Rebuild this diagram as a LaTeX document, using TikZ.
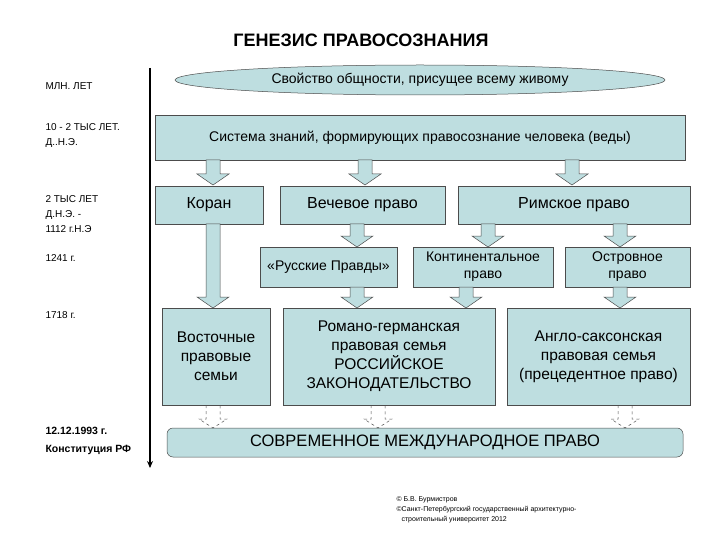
\documentclass[tikz,border=0pt]{standalone}
\usepackage{fontspec}
\setmainfont{Liberation Sans}
\usetikzlibrary{shapes.geometric,arrows.meta}
\definecolor{bf}{RGB}{190,222,224}
\newcommand{\barrow}[3]{% x, ytop, ybottom
  \filldraw[fill=bf,draw=black!70,line width=0.5pt] (#1-7,#2) -- (#1+7,#2) -- (#1+7,#3-11) -- (#1+16,#3-11) -- (#1,#3) -- (#1-16,#3-11) -- (#1-7,#3-11) -- cycle;}
\newcommand{\darrow}[3]{%
  \draw[dashed,draw=black!70,line width=0.5pt] (#1-7,#2) -- (#1-7,#3-9) -- (#1-14,#3-9) -- (#1,#3) -- (#1+14,#3-9) -- (#1+7,#3-9) -- (#1+7,#2);}
\begin{document}
\begin{tikzpicture}[x=1pt,y=-1pt,
  bx/.style={draw=black!70,fill=bf,line width=0.5pt,align=center,font=\fontsize{14}{17}\selectfont,inner sep=0pt},
  lbl/.style={anchor=west,align=left,font=\fontsize{10}{15}\selectfont}]
\useasboundingbox (0,0) rectangle (720,540);
\node[font=\bfseries\fontsize{18}{20}\selectfont] (title) at (361,40) {ГЕНЕЗИС ПРАВОСОЗНАНИЯ};
\draw[line width=1.2pt,-{Stealth[length=7pt,width=6pt]}] (150,68) -- (150,468);
\node[lbl] (t1) at (42,86) {МЛН. ЛЕТ};
\node[lbl] (t2) at (42,136) {10 - 2 ТЫС ЛЕТ.\\Д..Н.Э.};
\node[lbl] (t3) at (42,214) {2 ТЫС ЛЕТ\\Д.Н.Э. -\\1112 г.Н.Э};
\node[lbl] (t4) at (42,258) {1241 г.};
\node[lbl] (t5) at (42,315) {1718 г.};
\node[lbl,font=\bfseries\fontsize{10.5}{18}\selectfont] (t6) at (42,441) {12.12.1993 г.\\Конституция РФ};
\node[bx,ellipse,minimum width=490,minimum height=30] (e) at (420,80) {Свойство общности, присущее всему живому};
\node[bx,minimum width=530,minimum height=45] (sys) at (420,137.5) {Система знаний, формирующих правосознание человека (веды)};
\node[bx,minimum width=108,minimum height=38,font=\fontsize{16}{19}\selectfont] (kor) at (209,205) {Коран};
\node[bx,minimum width=165,minimum height=38,font=\fontsize{16}{19}\selectfont] (vech) at (362.5,205) {Вечевое право};
\node[bx,minimum width=232,minimum height=38,font=\fontsize{16}{19}\selectfont] (rim) at (574,205) {Римское право};
\node[bx,minimum width=137,minimum height=40,font=\fontsize{14}{17}\selectfont] (rus) at (328.5,267) {«Русские Правды»};
\node[bx,minimum width=140,minimum height=40,font=\fontsize{14}{17}\selectfont] (kont) at (483,267) {Континентальное\\право};
\node[bx,minimum width=125,minimum height=40,font=\fontsize{14}{17}\selectfont] (ostr) at (627.5,267) {Островное\\право};
\node[bx,minimum width=108,minimum height=97,font=\fontsize{15.5}{19}\selectfont] (vost) at (216,356.5) {Восточные\\правовые\\семьи};
\node[bx,minimum width=212,minimum height=97,font=\fontsize{15.5}{19}\selectfont] (rom) at (389,356.5) {Романо-германская\\правовая семья\\РОССИЙСКОЕ\\ЗАКОНОДАТЕЛЬСТВО};
\node[bx,minimum width=183,minimum height=97,font=\fontsize{15.5}{19}\selectfont] (angl) at (598.5,356.5) {Англо-саксонская\\правовая семья\\(прецедентное право)};
\node[bx,rounded corners=6pt,minimum width=516,minimum height=29,font=\fontsize{16.5}{19}\selectfont] (sovr) at (425,442.5) {СОВРЕМЕННОЕ МЕЖДУНАРОДНОЕ ПРАВО};
\barrow{213}{160}{185}
\barrow{365}{160}{185}
\barrow{572}{160}{185}
\barrow{357}{224}{247}
\barrow{488}{224}{247}
\barrow{620}{224}{247}
\barrow{213}{224}{308}
\barrow{357}{287}{308}
\barrow{466}{287}{308}
\barrow{620}{287}{308}
\darrow{213}{405}{428}
\darrow{378}{405}{428}
\darrow{625}{405}{428}
\node[anchor=west,align=left,font=\fontsize{7}{10}\selectfont] (copy) at (393,510) {© Б.В. Бурмистров\\©Санкт-Петербургский государственный архитектурно-\\\hspace*{5pt}строительный университет 2012};
\end{tikzpicture}
\end{document}
